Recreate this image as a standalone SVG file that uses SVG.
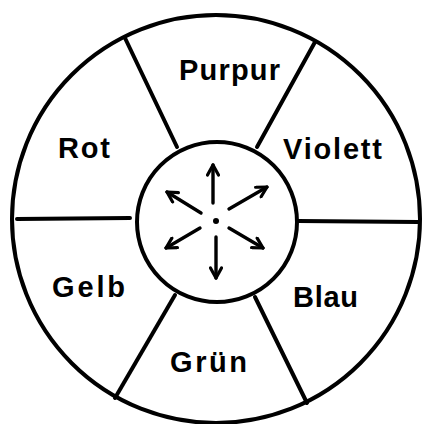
<svg xmlns="http://www.w3.org/2000/svg" width="422" height="424" viewBox="0 0 422 424">
<defs>
<style>
.ln{fill:none;stroke:#000;stroke-width:4;stroke-linecap:round}
.ar{fill:none;stroke:#000;stroke-width:3.4;stroke-linecap:round}
.lb{font-family:"Liberation Sans",Arial,sans-serif;font-weight:bold;font-size:29px;fill:#000}
</style>
<marker id="ah" viewBox="0 0 14 14" refX="12" refY="7" markerWidth="14" markerHeight="14" markerUnits="userSpaceOnUse" orient="auto">
<path d="M2,1.5 L12,7 L2,12.5" fill="none" stroke="#000" stroke-width="3.2" stroke-linecap="round" stroke-linejoin="round"/>
</marker>
</defs>
<rect width="422" height="424" fill="#fff"/>
<g id="wheel">
<circle class="ln" cx="216" cy="219" r="204"/>
</g>
<g id="hub">
<circle class="ln" cx="217" cy="222" r="80"/>
<circle cx="216" cy="221" r="3" fill="#000"/>
</g>
<g id="connectors">
<line class="ln" x1="125" y1="38" x2="177" y2="147"/>
<line class="ln" x1="315" y1="42" x2="257" y2="147"/>
<line class="ln" x1="17" y1="219" x2="130" y2="218" stroke-width="3.5"/>
<line class="ln" x1="298" y1="221" x2="418" y2="222"/>
<line class="ln" x1="175" y1="295" x2="115" y2="398"/>
<line class="ln" x1="255" y1="297" x2="307" y2="403"/>
<line class="ar" x1="213" y1="203" x2="213" y2="165" marker-end="url(#ah)"/>
<line class="ar" x1="216" y1="237" x2="216" y2="278" marker-end="url(#ah)"/>
<line class="ar" x1="201" y1="213" x2="167" y2="192" marker-end="url(#ah)"/>
<line class="ar" x1="229" y1="209" x2="267" y2="187" marker-end="url(#ah)"/>
<line class="ar" x1="200" y1="228" x2="166" y2="248" marker-end="url(#ah)"/>
<line class="ar" x1="229" y1="228" x2="263" y2="248" marker-end="url(#ah)"/>
</g>
<g id="purpur"><text class="lb" x="179" y="80" textLength="101" lengthAdjust="spacing">Purpur</text></g>
<g id="violett"><text class="lb" x="283" y="159" textLength="99" lengthAdjust="spacing">Violett</text></g>
<g id="rot"><text class="lb" x="58" y="158" textLength="52" lengthAdjust="spacing">Rot</text></g>
<g id="gelb"><text class="lb" x="52" y="297" textLength="73" lengthAdjust="spacing">Gelb</text></g>
<g id="blau"><text class="lb" x="293" y="307" textLength="65" lengthAdjust="spacing">Blau</text></g>
<g id="gruen"><text class="lb" x="170" y="372" textLength="77" lengthAdjust="spacing">Grün</text></g>
</svg>
